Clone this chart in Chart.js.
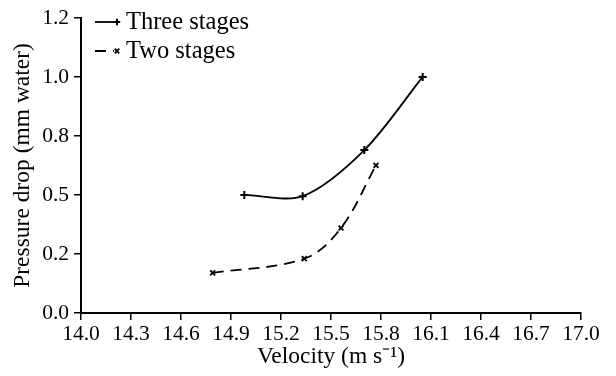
<!DOCTYPE html>
<html>
<head>
<meta charset="utf-8">
<script src="https://cdn.jsdelivr.net/npm/chart.js@4/dist/chart.umd.min.js"></script>
<style>
  html, body { margin: 0; padding: 0; background: #fff; }
  #wrap { width: 616px; height: 376px; }
</style>
</head>
<body>
<div id="wrap"><canvas id="c" width="616" height="376"></canvas></div>
<script>
// Measured pressure drop across the separator versus air velocity
const seriesNames = ['Three stages', 'Two stages'];
const threeStageVelocity = [14.98, 15.33, 15.70, 16.05];
const threeStageDrop = [0.50, 0.495, 0.69, 1.00];
const twoStageVelocity = [14.79, 15.34, 15.56, 15.77];
const twoStageDrop = [0.17, 0.23, 0.36, 0.625];

const xTickValues = [14.0, 14.3, 14.6, 14.9, 15.2, 15.5, 15.8, 16.1, 16.4, 16.7, 17.0];
const yTickValues = [0, 0.25, 0.5, 0.75, 1.0, 1.25];
const yTickLabels = ['0.0', '0.2', '0.5', '0.8', '1.0', '1.2'];

const SERIF = '"Liberation Serif", "Times New Roman", serif';
const toXY = (xs, ys) => xs.map((x, i) => ({ x, y: ys[i] }));

// Legend drawn as a short line sample followed by the marker and the label
const lineLegend = {
  id: 'lineLegend',
  afterDraw(chart) {
    const ctx = chart.ctx;
    const left = 95, lineLen = 19, rowGap = 29, top = 22;
    chart.data.datasets.forEach((ds, i) => {
      const y = top + i * rowGap;
      ctx.save();
      ctx.strokeStyle = ds.borderColor;
      ctx.lineWidth = ds.borderWidth;
      ctx.setLineDash(ds.borderDash || []);
      ctx.beginPath();
      ctx.moveTo(left, y);
      ctx.lineTo(left + lineLen, y);
      ctx.stroke();
      ctx.setLineDash([]);
      ctx.lineWidth = ds.pointBorderWidth;
      Chart.helpers.drawPoint(ctx, { pointStyle: ds.pointStyle, radius: 3.2, rotation: 0, borderWidth: ds.pointBorderWidth }, left + lineLen + 3, y);
      ctx.fillStyle = '#000';
      ctx.font = '24.5px ' + SERIF;
      ctx.textBaseline = 'middle';
      ctx.textAlign = 'left';
      ctx.fillText(ds.label, left + lineLen + 12, y + 1);
      ctx.restore();
    });
  }
};

new Chart(document.getElementById('c'), {
  type: 'scatter',
  data: {
    datasets: [
      {
        label: seriesNames[0],
        data: toXY(threeStageVelocity, threeStageDrop),
        showLine: true,
        tension: 0.3,
        borderColor: '#000',
        borderWidth: 1.8,
        pointStyle: 'cross',
        pointRadius: 4,
        pointBorderWidth: 2,
        pointBorderColor: '#000',
        pointBackgroundColor: '#000'
      },
      {
        label: seriesNames[1],
        data: toXY(twoStageVelocity, twoStageDrop),
        showLine: true,
        tension: 0.35,
        borderColor: '#000',
        borderWidth: 1.8,
        borderDash: [11, 7],
        pointStyle: 'crossRot',
        pointRadius: 3.5,
        pointBorderWidth: 1.8,
        pointBorderColor: '#000',
        pointBackgroundColor: '#000'
      }
    ]
  },
  options: {
    responsive: false,
    animation: false,
    layout: { padding: { top: 15, right: 35, left: 0, bottom: 0 } },
    plugins: { legend: { display: false }, tooltip: { enabled: false } },
    scales: {
      x: {
        type: 'linear',
        min: 14,
        max: 17,
        afterBuildTicks: s => { s.ticks = xTickValues.map(v => ({ value: v })); },
        afterFit: s => { s.height = 63; },
        ticks: {
          callback: v => Number(v).toFixed(1),
          color: '#000',
          font: { family: SERIF, size: 21.5 },
          padding: 1,
          maxRotation: 0,
          autoSkip: false
        },
        grid: { drawOnChartArea: false, tickLength: 7, color: '#000', lineWidth: 1.5 },
        border: { color: '#000', width: 2 },
        title: {
          display: true,
          text: 'Velocity (m s\u207B\u00B9)',
          color: '#000',
          font: { family: SERIF, size: 23.5 },
          padding: { top: 0, bottom: 5 }
        }
      },
      y: {
        type: 'linear',
        min: 0,
        max: 1.25,
        afterBuildTicks: s => { s.ticks = yTickValues.map(v => ({ value: v })); },
        afterFit: s => { s.width = 81; },
        ticks: {
          callback: (v, i) => yTickLabels[i],
          color: '#000',
          font: { family: SERIF, size: 21.5 },
          padding: 5,
          autoSkip: false
        },
        grid: { drawOnChartArea: false, tickLength: 7, color: '#000', lineWidth: 1.5 },
        border: { color: '#000', width: 2 },
        title: {
          display: true,
          text: 'Pressure drop (mm water)',
          color: '#000',
          font: { family: SERIF, size: 23.5 },
          padding: { top: 9, bottom: 0 }
        }
      }
    }
  },
  plugins: [lineLegend]
});
</script>
</body>
</html>
